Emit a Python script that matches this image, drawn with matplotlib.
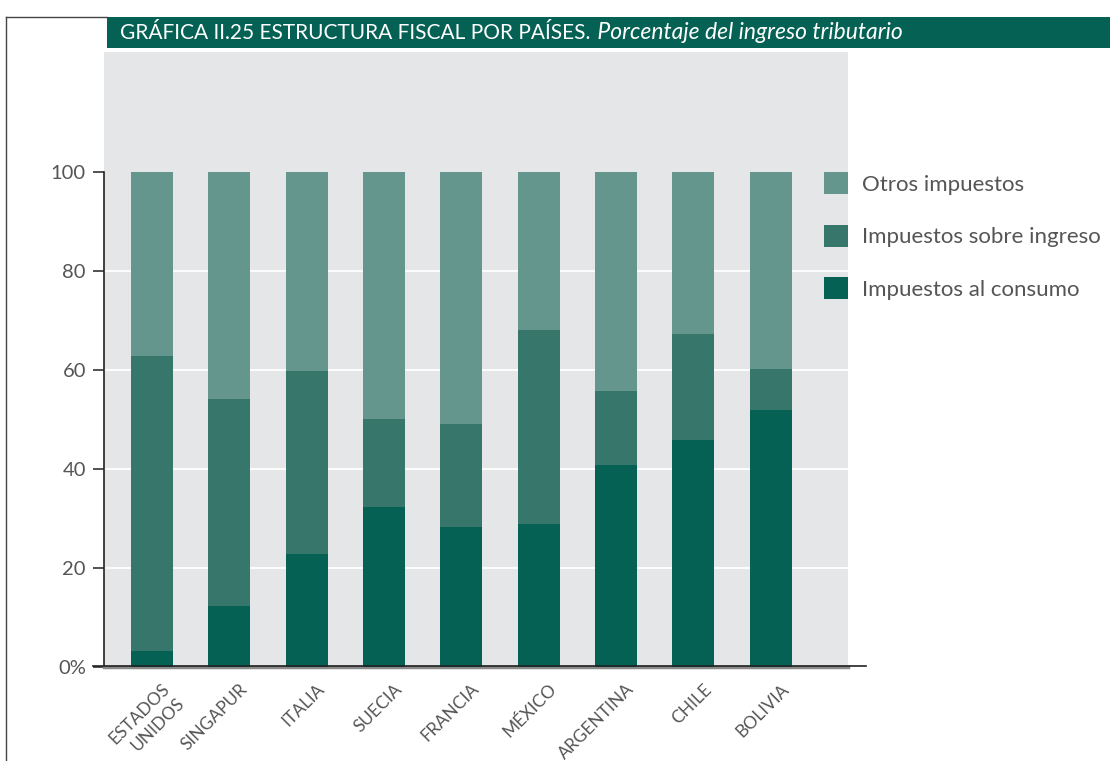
import numpy as np
import matplotlib.pyplot as plt
from matplotlib.lines import Line2D
from matplotlib.patches import Rectangle
from matplotlib.text import Annotation
from matplotlib import transforms

plt.rcParams['font.family'] = ['Lato', 'DejaVu Sans']

paises = ['Estados\nUnidos', 'Singapur', 'Italia', 'Suecia', 'Francia',
          'México', 'Argentina', 'Chile', 'Bolivia']
consumo = [3.2, 12.3, 22.8, 32.3, 28.3, 28.9, 40.8, 45.9, 51.9]
ingreso = [59.6, 41.8, 37.0, 17.8, 20.8, 39.2, 15.0, 21.4, 8.3]
otros = [37.2, 45.9, 40.2, 49.9, 50.9, 31.9, 44.2, 32.7, 39.8]

c_consumo = '#046153'
c_ingreso = '#37766a'
c_otros = '#64968d'
c_panel = '#e5e6e8'
c_text = '#555555'

W, H = 1110, 761
fig = plt.figure(figsize=(W / 100, H / 100), dpi=100)

# plot area in pixel coordinates
left, right, bottom, top = 104, 848, 667, 52
ax = fig.add_axes([left / W, 1 - bottom / H, (right - left) / W, (bottom - top) / H])
ax.set_facecolor(c_panel)

x = np.arange(len(paises))
consumo = np.array(consumo)
ingreso = np.array(ingreso)
otros = np.array(otros)
bw = 0.54
b1 = ax.bar(x, consumo, bw, color=c_consumo, zorder=3, label='Impuestos al consumo')
b2 = ax.bar(x, ingreso, bw, bottom=consumo, color=c_ingreso, zorder=3,
            label='Impuestos sobre ingreso')
b3 = ax.bar(x, otros, bw, bottom=consumo + ingreso, color=c_otros, zorder=3,
            label='Otros impuestos')

ax.set_xlim(-0.62, 9.0)
ax.set_ylim(0, 124.2)

for g in [20, 40, 60, 80]:
    ax.axhline(g, color='white', lw=1.3, zorder=1)

ax.set_yticks([0, 20, 40, 60, 80, 100])
ax.set_yticklabels(['0%', '20', '40', '60', '80', '100'])
ax.tick_params(axis='y', length=8, width=1.2, color='#333333', labelsize=14.5,
               labelcolor=c_text, pad=5)
for s in ['top', 'right']:
    ax.spines[s].set_visible(False)
ax.spines['left'].set_bounds(0, 100)
ax.spines['left'].set_color('#222222')
ax.spines['left'].set_linewidth(1.2)
ax.spines['bottom'].set_color('#8a8a8a')
ax.spines['bottom'].set_linewidth(2.5)

# x labels rotated 45 degrees
ax.set_xticks(x)
ax.set_xticklabels([p.upper() for p in paises], rotation=45, ha='right',
                   va='top', rotation_mode='anchor', fontsize=12.5, color=c_text,
                   linespacing=1.35)
ax.tick_params(axis='x', length=0, pad=10)
offset = transforms.ScaledTranslation(7 / 72, 0, fig.dpi_scale_trans)
for lbl in ax.get_xticklabels():
    lbl.set_transform(lbl.get_transform() + offset)

# baseline extends past the panel
fig.add_artist(Line2D([93 / W, 866 / W], [1 - 666 / H, 1 - 666 / H],
                      color='#222222', lw=1.2))

# legend
fig.legend(handles=[b3, b2, b1], loc='upper left',
           bbox_to_anchor=(824 / W, 1 - 172 / H), frameon=False, fontsize=16,
           labelcolor=c_text, handlelength=1.1, handleheight=1.15,
           handletextpad=0.6, labelspacing=1.35, borderpad=0, borderaxespad=0)

# frame and title bar
fig.add_artist(Line2D([6 / W, 6 / W], [0, 1 - 17 / H], color='#444444', lw=1))
fig.add_artist(Line2D([6 / W, 107 / W], [1 - 17 / H, 1 - 17 / H], color='#444444', lw=1))
fig.add_artist(Rectangle((107 / W, 1 - 48 / H), (W - 107) / W, 31 / H,
                         transform=fig.transFigure, color=c_consumo, lw=0))
t1 = fig.text(120 / W, 1 - 33 / H, 'GRÁFICA II.25 ESTRUCTURA FISCAL POR PAÍSES.',
              color='white', fontsize=15, va='center', ha='left')
sub = Annotation(' Porcentaje del ingreso tributario', xy=(1, 0), xycoords=t1,
                 xytext=(1, 0), textcoords='offset points', color='white',
                 fontsize=16.5, style='italic', va='bottom', ha='left',
                 annotation_clip=False)
fig.add_artist(sub)

fig.savefig('out.png', dpi=100)
